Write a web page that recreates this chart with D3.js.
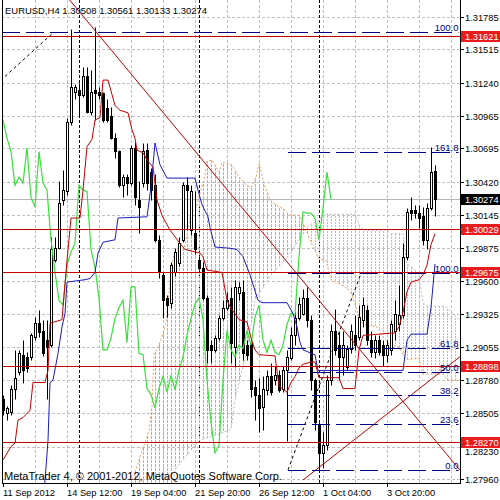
<!DOCTYPE html>
<html><head><meta charset="utf-8">
<script src="https://cdn.jsdelivr.net/npm/d3@7"></script>
<style>html,body{margin:0;padding:0;background:#fff;}svg{display:block;font-family:"Liberation Sans",Arial,sans-serif;}</style>
</head><body><svg id="c" width="500" height="500"></svg>
<script>
// ---------------- DATA ----------------
const titleText = "EURUSD,H4  1.30508 1.30561 1.30133 1.30274";
const copyrightText = "MetaTrader 4, \u00A9 2001-2012, MetaQuotes Software Corp.";
const dateLabels = ["11 Sep 2012","14 Sep 12:00","19 Sep 04:00","21 Sep 20:00","26 Sep 12:00","1 Oct 04:00","3 Oct 20:00"];
const dateTickBars = [0,16,32,48,64,80,96];
const separatorBars = [19,49,79];
const priceTicks = [1.31785,1.31515,1.31240,1.30965,1.30695,1.30420,1.30145,1.29875,1.29600,1.29325,1.29055,1.28780,1.28505,1.28230,1.27960];

const open = [1.2862,1.2851,1.2852,1.2871,1.2885,1.2899,1.2897,1.2897,1.2914,1.2925,
1.2919,1.2911,1.2907,1.2977,1.2987,1.3027,1.3034,1.3091,1.3116,1.3118,
1.3114,1.3129,1.3100,1.3118,1.3116,1.3115,1.3103,1.3096,1.3078,1.3067,
1.3039,1.3046,1.3041,1.3070,1.3027,1.3041,1.3068,1.3050,1.3039,1.2994,
1.2965,1.2946,1.2942,1.2967,1.2975,1.2994,1.3039,1.3002,1.3000,1.2977,
1.2971,1.2946,1.2907,1.2903,1.2913,1.2929,1.2938,1.2946,1.2905,1.2950,
1.2951,1.2907,1.2909,1.2872,1.2866,1.2856,1.2870,1.2881,1.2878,1.2882,
1.2871,1.2886,1.2896,1.2915,1.2929,1.2933,1.2946,1.2928,1.2878,1.2841,
1.2818,1.2824,1.2878,1.2919,1.2907,1.2897,1.2889,1.2904,1.2915,1.2914,
1.2928,1.2936,1.2911,1.2901,1.2911,1.2907,1.2899,1.2903,1.2919,1.2924,
1.2932,1.2980,1.3019,1.3019,1.3016,1.3014,1.2994,1.3020,1.30508];
const close = [1.2853,1.2855,1.2871,1.2880,1.2900,1.2886,1.2888,1.2915,1.2925,1.2918,
1.2900,1.2905,1.2986,1.2987,1.3024,1.3035,1.3091,1.3120,1.3120,1.3114,
1.3129,1.3100,1.3116,1.3115,1.3114,1.3093,1.3093,1.3078,1.3067,1.3039,
1.3046,1.3041,1.3070,1.3029,1.3021,1.3067,1.3041,1.3035,1.2994,1.2967,
1.2944,1.2940,1.2973,1.2984,1.2991,1.3039,1.3035,1.3034,1.2986,1.2971,
1.2946,1.2903,1.2903,1.2913,1.2929,1.2938,1.2944,1.2909,1.2955,1.2955,
1.2900,1.2899,1.2871,1.2866,1.2855,1.2871,1.2881,1.2868,1.2882,1.2870,
1.2886,1.2897,1.2915,1.2929,1.2941,1.2946,1.2928,1.2878,1.2843,1.2818,
1.2824,1.2878,1.2919,1.2903,1.2897,1.2907,1.2904,1.2919,1.2907,1.2930,
1.2940,1.2911,1.2901,1.2911,1.2901,1.2899,1.2907,1.2924,1.2933,1.2932,
1.2980,1.3017,1.3016,1.3016,1.3012,1.2994,1.3020,1.3050,1.30274];
const high = [1.2866,1.2857,1.2874,1.2903,1.2903,1.2911,1.2901,1.2917,1.2930,1.2936,
1.2928,1.2928,1.2996,1.2996,1.3043,1.3052,1.3095,1.3168,1.3123,1.3124,
1.3137,1.3137,1.3134,1.3170,1.3120,1.3116,1.3110,1.3104,1.3082,1.3068,
1.3048,1.3048,1.3072,1.3075,1.3043,1.3074,1.3074,1.3053,1.3048,1.2998,
1.2967,1.2948,1.2976,1.2987,1.2996,1.3042,1.3046,1.3039,1.3034,1.2981,
1.2976,1.2948,1.2911,1.2915,1.2932,1.2944,1.2951,1.2955,1.2961,1.2959,
1.2961,1.2911,1.2911,1.2878,1.2880,1.2881,1.2886,1.2892,1.2890,1.2886,
1.2890,1.2903,1.2922,1.2934,1.2947,1.2953,1.2955,1.2932,1.2880,1.2845,
1.2835,1.2882,1.2924,1.2937,1.2919,1.2919,1.2907,1.2924,1.2932,1.2940,
1.2947,1.2940,1.2919,1.2915,1.2915,1.2911,1.2911,1.2928,1.2944,1.2957,
1.2991,1.3020,1.3029,1.3023,1.3023,1.3021,1.3024,1.3071,1.30561];
const low = [1.2849,1.2845,1.2849,1.2862,1.2882,1.2876,1.2885,1.2895,1.2911,1.2914,
1.2898,1.2862,1.2905,1.2976,1.2986,1.3023,1.3031,1.3089,1.3110,1.3097,
1.3112,1.3099,1.3097,1.3093,1.3110,1.3091,1.3091,1.3077,1.3062,1.3038,
1.3029,1.3031,1.3039,1.3023,1.3000,1.3038,1.3035,1.3027,1.2992,1.2962,
1.2929,1.2930,1.2938,1.2964,1.2972,1.2992,1.3002,1.2998,1.2982,1.2969,
1.2944,1.2892,1.2892,1.2901,1.2911,1.2928,1.2936,1.2892,1.2889,1.2944,
1.2895,1.2895,1.2864,1.2845,1.2835,1.2837,1.2866,1.2866,1.2874,1.2868,
1.2868,1.2828,1.2895,1.2907,1.2928,1.2932,1.2922,1.2870,1.2837,1.2804,
1.2805,1.2820,1.2874,1.2899,1.2878,1.2882,1.2886,1.2900,1.2903,1.2911,
1.2922,1.2907,1.2897,1.2896,1.2899,1.2890,1.2893,1.2899,1.2911,1.2919,
1.2929,1.2977,1.3010,1.3012,1.3004,1.2990,1.2986,1.3019,1.30133];

// Ichimoku lines read as [bar, price] vertices
const tenkan = [[0,1.2812],[2,1.2823],[3,1.2826],[3.75,1.2845],[5,1.2847],[6.75,1.2853],[7.5,1.2876],[10.5,1.2876],[11.25,1.2886],[11.75,1.2925],[14.75,1.2928],[16,1.2977],[17,1.3012],[19.25,1.3012],[20,1.3035],[21,1.3071],[22.25,1.3077],[23,1.3093],[24.25,1.3095],[25,1.3126],[26.25,1.3126],[28,1.3105],[29.25,1.3101],[31.25,1.3099],[32.25,1.3085],[33,1.3078],[33.5,1.3068],[35,1.3066],[36,1.3060],[37.5,1.3054],[38.5,1.3027],[39.75,1.3014],[41.75,1.3002],[44.25,1.2991],[45.5,1.2986],[49.25,1.2983],[50,1.2980],[51,1.2969],[54.75,1.2967],[56,1.2944],[57,1.2937],[58,1.2933],[59,1.2928],[61,1.2926],[62,1.2913],[63,1.2903],[64,1.2899],[68,1.2898],[69,1.2873],[71,1.2868],[72,1.2876],[73,1.2881],[74,1.2888],[75,1.2891],[77,1.2893],[78,1.2893],[79,1.2880],[84,1.2880],[85,1.2871],[88,1.2871],[89,1.2903],[90,1.2915],[98,1.2917],[99,1.2922],[100,1.2934],[101,1.2951],[102,1.2959],[104,1.2961],[105,1.2965],[106,1.2973],[107,1.2990],[108,1.2999]];
const kijun = [[10,1.2779],[10.5,1.2795],[11.25,1.2828],[11.75,1.2876],[12.5,1.2878],[13.75,1.2900],[14.75,1.2922],[15.5,1.2933],[16,1.2959],[20.5,1.2961],[21.75,1.2962],[23,1.2967],[23.75,1.2983],[25,1.2992],[28,1.2994],[28.75,1.3012],[36,1.3013],[37,1.3038],[38,1.3074],[39.25,1.3056],[41,1.3045],[48,1.3045],[48.75,1.3035],[49.75,1.3023],[51.25,1.3013],[51.75,1.3004],[53,1.2988],[56.75,1.2987],[58.5,1.2986],[60,1.2980],[61.75,1.2965],[63.75,1.2944],[64.75,1.2942],[71,1.2942],[72.5,1.2933],[73.5,1.2922],[74.25,1.2909],[75,1.2903],[78,1.2899],[78.75,1.2886],[100,1.2886],[101,1.2911],[102,1.2916],[106,1.2916],[107,1.2938],[108,1.2974]];
const senkouA = [[26,1.2771],[31.75,1.2789],[33.5,1.2807],[36.5,1.2836],[37.25,1.2857],[37.75,1.2900],[38.5,1.2903],[39.75,1.2914],[40.75,1.2925],[42,1.2968],[43,1.2986],[45.25,1.2986],[46,1.2998],[47,1.3016],[48.25,1.3020],[49,1.3030],[50.25,1.3043],[51,1.3059],[52.25,1.3060],[54,1.3050],[54.75,1.3058],[57.25,1.3056],[59,1.3046],[61,1.3039],[62,1.3037],[63.25,1.3046],[64,1.3057],[65.25,1.3040],[67,1.3026],[67.75,1.3024],[70.25,1.3019],[71.5,1.3015],[74,1.3014],[74.75,1.3010],[75.75,1.3002],[77,1.2992],[77.75,1.2986],[79,1.2978],[80.75,1.2977],[82,1.2961],[84.5,1.2957],[86,1.2954],[87,1.2950],[87.75,1.2943],[89.5,1.2926],[91,1.2923],[93.5,1.2922],[94.75,1.2915],[97,1.2906],[98.5,1.2907],[100.25,1.2898],[101,1.2895],[104,1.2896],[105,1.2883],[110,1.2883],[111,1.2878],[114,1.2878]];
const senkouB = [[26,1.2696],[41,1.2696],[42,1.2779],[43,1.2804],[49,1.2828],[57,1.2837],[58,1.2862],[61,1.2903],[63,1.2944],[67,1.2965],[71,1.2979],[74,1.2994],[76,1.3004],[77,1.3007],[79,1.3010],[80,1.3015],[88,1.3015],[89,1.3007],[90,1.3002],[96,1.3002],[97,1.2999],[100,1.2999],[101,1.2974],[102,1.2972],[103,1.2969],[104,1.2966],[105,1.2942],[106,1.2939],[110,1.2939],[111,1.2938],[114,1.2928]];
const chikouShift = 26;

const levelLines = [1.31621,1.30029,1.29675,1.28898,1.28270];
const lastPrice = 1.30274;
const trendLines = [[[22.25,1.3170],[79,1.29439]],[[75,1.27954],[114.25,1.28974]]];
const fibMainAnchors = [[71.25,1.28038],[89.5,1.29662]];
const fibMainLevels = [0,23.6,38.2,50,61.8,100,161.8];
const fibTopAnchors = [[0.5,1.3129],[12.75,1.31658]];
const fibTopLevels = [100];

// ---------------- DRAW ----------------
const svg = d3.select('#c');
const L=2, R=460, T=0, B=483, lastBarEdge=113.75;
const x = d3.scaleLinear().domain([0,114]).range([3,459]);
const y = d3.scaleLinear().domain([1.27960,1.31785]).range([479.3,16.6]);
const cr = v => Math.round(v)+0.5;
const BROWN = '#f0a060', THISTLE = '#c4b6d0';

svg.append('rect').attr('width',500).attr('height',500).attr('fill','#fff');
const defs = svg.append('defs');
defs.append('clipPath').attr('id','plot').append('rect').attr('x',L).attr('y',T).attr('width',R-L).attr('height',B-T);
function hatch(id,color,dash){
  const p = defs.append('pattern').attr('id',id).attr('patternUnits','userSpaceOnUse')
    .attr('x',3).attr('y',0).attr('width',4).attr('height',dash+1);
  p.append('rect').attr('x',0).attr('y',0).attr('width',1).attr('height',dash).attr('fill',color);
}
hatch('hBrown',BROWN,3); hatch('hThistle',THISTLE,2);
const areaBelow = d3.area().x(d=>x(d[0])).y0(d=>y(d[1])).y1(B+60);
const areaAbove = d3.area().x(d=>x(d[0])).y0(T-60).y1(d=>y(d[1]));
defs.append('clipPath').attr('id','belowA').append('path').attr('d',areaBelow(senkouA));
defs.append('clipPath').attr('id','belowB').append('path').attr('d',areaBelow(senkouB));

const g = svg.append('g').attr('clip-path','url(#plot)');

// grid
priceTicks.forEach(t=>{
  g.append('line').attr('x1',L).attr('x2',R).attr('y1',cr(y(t))).attr('y2',cr(y(t)))
   .attr('stroke','#c0c0c0').attr('stroke-dasharray','3,2');
});
for(let b=8;b<=112;b+=8){
  g.append('line').attr('x1',cr(x(b))).attr('x2',cr(x(b))).attr('y1',T).attr('y2',B)
   .attr('stroke','#c0c0c0').attr('stroke-dasharray','3,2');
}
// period separators
separatorBars.forEach(b=>{
  g.append('line').attr('x1',cr(x(b))).attr('x2',cr(x(b))).attr('y1',T).attr('y2',B)
   .attr('stroke','#000').attr('stroke-dasharray','3,2');
});

// cloud (brown where span A is above span B, thistle otherwise)
g.append('g').attr('clip-path','url(#belowA)').append('path').attr('d',areaAbove(senkouB)).attr('fill','url(#hBrown)');
g.append('g').attr('clip-path','url(#belowB)').append('path').attr('d',areaAbove(senkouA)).attr('fill','url(#hThistle)');
const line = d3.line().x(d=>x(d[0])).y(d=>y(d[1]));
g.append('path').attr('d',line(senkouA)).attr('fill','none').attr('stroke',BROWN).attr('stroke-dasharray','2,2');
g.append('path').attr('d',line(senkouB)).attr('fill','none').attr('stroke',THISTLE).attr('stroke-dasharray','2,2');

// last price line
g.append('line').attr('x1',L).attr('x2',R).attr('y1',cr(y(lastPrice))).attr('y2',cr(y(lastPrice))).attr('stroke','#b4b4b4');

// candles
const cg = g.append('g');
open.forEach((o,i)=>{
  const c = close[i], px = Math.round(x(i));
  cg.append('line').attr('x1',px+0.5).attr('x2',px+0.5).attr('y1',cr(y(high[i]))).attr('y2',cr(y(low[i]))).attr('stroke','#000');
  const top = Math.round(y(Math.max(o,c))), bot = Math.round(y(Math.min(o,c)));
  cg.append('rect').attr('x',px-0.5).attr('y',top+0.5).attr('width',2).attr('height',Math.max(bot-top,0))
    .attr('fill', c>=o ? '#fff' : '#000').attr('stroke','#000');
});

// indicator lines
const chikou = close.map((c,i)=>[i-chikouShift,c]).filter(d=>d[0]>=-2);
g.append('path').attr('d',line(chikou)).attr('fill','none').attr('stroke','#3adf3a').attr('stroke-width',1.2);
g.append('path').attr('d',line(kijun)).attr('fill','none').attr('stroke','#1c1cb8');
g.append('path').attr('d',line(tenkan)).attr('fill','none').attr('stroke','#c40000');

// horizontal level lines
levelLines.forEach(p=>{
  g.append('line').attr('x1',L).attr('x2',R).attr('y1',cr(y(p))).attr('y2',cr(y(p))).attr('stroke','#c40000');
});
// trend lines (rays to the right edge)
const edgeBar = x.invert(R);
trendLines.forEach(([a,b])=>{
  const s = (b[1]-a[1])/(b[0]-a[0]);
  const startBar = a[0] - (s>0? 0 : 6);
  g.append('line').attr('x1',x(startBar)).attr('y1',y(a[1]+s*(startBar-a[0])))
   .attr('x2',x(edgeBar)).attr('y2',y(a[1]+s*(edgeBar-a[0]))).attr('stroke','#c40000');
});
// fibonacci
function fib(anchors, levels, fromLeft){
  const [a,b] = anchors;
  g.append('line').attr('x1',x(a[0])).attr('y1',y(a[1])).attr('x2',x(b[0])).attr('y2',y(b[1]))
   .attr('stroke','#000').attr('stroke-dasharray','3,3');
  const x0 = fromLeft ? L : x(a[0]), x1 = x(lastBarEdge)+0.5;
  levels.forEach(lv=>{
    const p = a[1] + (b[1]-a[1])*lv/100, yy = cr(y(p));
    g.append('line').attr('x1',x0).attr('x2',x1).attr('y1',yy).attr('y2',yy)
     .attr('stroke','#000080').attr('stroke-dasharray','18,6');
    g.append('text').attr('x',x1).attr('y',yy-2).attr('text-anchor','end')
     .attr('font-size',9.5).attr('fill','#000080').text(lv.toFixed(1));
  });
}
fib(fibTopAnchors, fibTopLevels, true);
fib(fibMainAnchors, fibMainLevels, false);

// frame
svg.append('line').attr('x1',L+0.5).attr('x2',L+0.5).attr('y1',0).attr('y2',B+1).attr('stroke','#000');
svg.append('line').attr('x1',R+0.5).attr('x2',R+0.5).attr('y1',0).attr('y2',B+1).attr('stroke','#000');
svg.append('line').attr('x1',L).attr('x2',R+1).attr('y1',B+0.5).attr('y2',B+0.5).attr('stroke','#000');

// right axis
const boxPrices = levelLines.concat([lastPrice]);
priceTicks.forEach(t=>{
  const yy = cr(y(t));
  svg.append('line').attr('x1',R+1).attr('x2',R+4).attr('y1',yy).attr('y2',yy).attr('stroke','#000');
  // a tick label that would sit under a price box is nudged just below it
  const near = boxPrices.find(p=>Math.abs(y(p)-y(t))<6 && y(p)<y(t));
  const ty = near ? Math.round(y(near))+13 : yy+3.5;
  svg.append('text').attr('x',465).attr('y',ty).attr('font-size',9.3).attr('fill','#000').text(t.toFixed(5));
});
function priceBox(p,bg){
  const yy = Math.round(y(p));
  svg.append('rect').attr('x',R+1).attr('y',yy-5).attr('width',39).attr('height',11).attr('fill',bg);
  svg.append('text').attr('x',465).attr('y',yy+4).attr('font-size',9.3).attr('fill','#fff').text(p.toFixed(5));
}
levelLines.forEach(p=>priceBox(p,'#e81c1c'));
priceBox(lastPrice,'#000');

// bottom axis
dateTickBars.forEach((b,k)=>{
  const xx = cr(x(b));
  svg.append('line').attr('x1',xx).attr('x2',xx).attr('y1',B).attr('y2',B+4).attr('stroke','#000');
  svg.append('text').attr('x',xx-0.5).attr('y',496).attr('font-size',9.3).attr('fill','#000').text(dateLabels[k]);
});

// title & copyright
svg.append('text').attr('x',5).attr('y',14).attr('font-size',9.5).attr('fill','#000')
  .attr('textLength',202).attr('lengthAdjust','spacingAndGlyphs').text(titleText);
svg.append('text').attr('x',4).attr('y',480).attr('font-size',10.3).attr('fill','#000')
  .attr('textLength',278).attr('lengthAdjust','spacingAndGlyphs').text(copyrightText);
</script></body></html>
